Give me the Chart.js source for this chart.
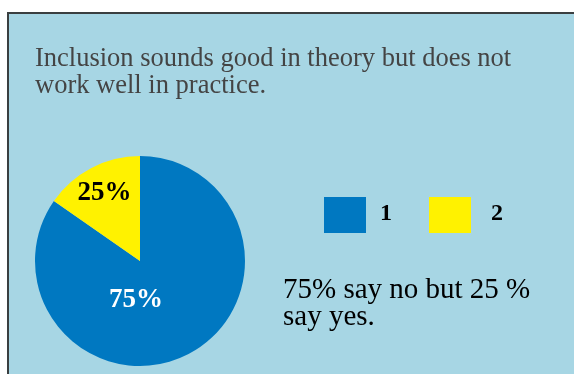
<!DOCTYPE html>
<html>
<head>
<meta charset="utf-8">
<script src="https://cdn.jsdelivr.net/npm/chart.js@4.4.1/dist/chart.umd.min.js"></script>
<style>
  html, body { margin: 0; padding: 0; background: #ffffff; width: 574px; height: 374px; overflow: hidden; }
  #panel { position: absolute; left: 7px; top: 12px; width: 567px; height: 362px; background: #a7d6e4;
           border-top: 2px solid #3a3f40; border-left: 2px solid #3a3f40; box-sizing: border-box; }
  #title { position: absolute; left: 35px; top: 44px; font-family: 'Liberation Serif', serif; font-size: 26.5px;
           line-height: 27px; color: #444444; white-space: nowrap; }
  #note { position: absolute; left: 283px; top: 275px; font-family: 'Liberation Serif', serif; font-size: 29px;
          line-height: 27px; color: #000000; white-space: nowrap; }
  #wrap { position: absolute; left: 0; top: 0; width: 574px; height: 374px; }
</style>
</head>
<body>
<div id="panel"></div>
<div id="wrap"><canvas id="c" width="574" height="374"></canvas></div>
<div id="title">Inclusion sounds good in theory but does not<br>work well in practice.</div>
<div id="note">75% say no but 25 %<br>say yes.</div>
<script>
// ---- data ----
const categories = ['1', '2'];
const sliceValues = [84.7, 15.3];          // shares as drawn in the picture
const sliceLabels = ['75%', '25%'];         // label texts printed on the slices
const sliceColors = ['#0078c1', '#fff200'];
const labelColors = ['#ffffff', '#000000'];

// label placement (polar, relative to pie center): angle in degrees (screen), radius fraction
const labelPlacement = [ { angle: 96, r: 0.37 }, { angle: null, r: 0.73 } ];

const sliceLabelPlugin = {
  id: 'sliceLabels',
  afterDatasetsDraw(chart) {
    const ctx = chart.ctx;
    const meta = chart.getDatasetMeta(0);
    ctx.save();
    ctx.font = 'bold 27px "Liberation Serif", serif';
    ctx.textAlign = 'center';
    ctx.textBaseline = 'middle';
    meta.data.forEach((arc, i) => {
      const p = arc.getProps(['x', 'y', 'startAngle', 'endAngle', 'outerRadius'], true);
      const pl = labelPlacement[i];
      const a = pl.angle === null ? (p.startAngle + p.endAngle) / 2 : pl.angle * Math.PI / 180;
      const x = p.x + Math.cos(a) * p.outerRadius * pl.r;
      const y = p.y + Math.sin(a) * p.outerRadius * pl.r;
      ctx.fillStyle = labelColors[i];
      ctx.fillText(sliceLabels[i], x, y);
    });
    ctx.restore();
  }
};

const legendPlugin = {
  id: 'boxLegend',
  afterDraw(chart) {
    const ctx = chart.ctx;
    const ds = chart.data.datasets[0];
    const boxX = [324, 429];
    const textX = [380, 491];
    ctx.save();
    ctx.font = 'bold 24px "Liberation Serif", serif';
    ctx.textBaseline = 'alphabetic';
    ctx.textAlign = 'left';
    chart.data.labels.forEach((lab, i) => {
      ctx.fillStyle = ds.backgroundColor[i];
      ctx.fillRect(boxX[i], 197, 42, 36);
      ctx.fillStyle = '#000000';
      ctx.fillText(lab, textX[i], 220);
    });
    ctx.restore();
  }
};

new Chart(document.getElementById('c'), {
  type: 'pie',
  data: {
    labels: categories,
    datasets: [{
      data: sliceValues,
      backgroundColor: sliceColors,
      borderWidth: 0
    }]
  },
  options: {
    responsive: false,
    animation: false,
    layout: { padding: { left: 35, right: 329, top: 156, bottom: 8 } },
    plugins: {
      legend: { display: false },
      tooltip: { enabled: false },
      title: { display: false }
    }
  },
  plugins: [sliceLabelPlugin, legendPlugin]
});
</script>
</body>
</html>
